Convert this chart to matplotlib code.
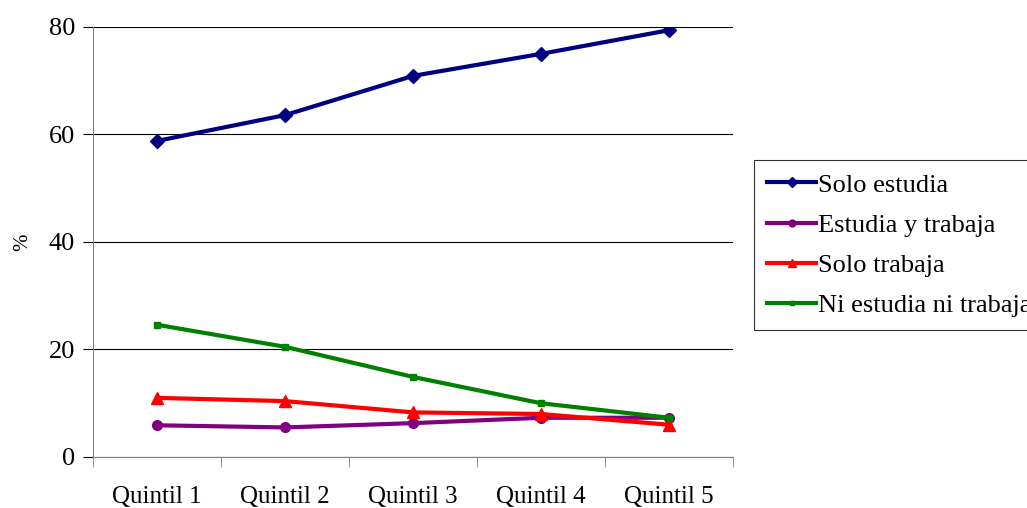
import matplotlib.pyplot as plt

plt.rcParams['font.family'] = ['Liberation Serif', 'DejaVu Serif']

# Datos
quintiles = ['Quintil 1', 'Quintil 2', 'Quintil 3', 'Quintil 4', 'Quintil 5']
solo_estudia = [58.8, 63.6, 70.9, 75.0, 79.4]
estudia_trabaja = [5.9, 5.5, 6.3, 7.3, 7.3]
solo_trabaja = [11.0, 10.4, 8.3, 8.0, 6.0]
ni_ni = [24.6, 20.5, 14.9, 10.0, 7.3]

fig = plt.figure(figsize=(10.27, 5.08), dpi=100)
ax = fig.add_axes([0.0906, 0.1004, 0.6231, 0.8465])

x = range(len(quintiles))
ax.plot(x, solo_estudia, color='#000080', lw=3, marker='D', ms=7, label='Solo estudia')
ax.plot(x, estudia_trabaja, color='#800080', lw=3, marker='o', ms=7, label='Estudia y trabaja')
ax.plot(x, solo_trabaja, color='#ff0000', lw=3, marker='^', ms=8, label='Solo trabaja')
ax.plot(x, ni_ni, color='#008000', lw=3, marker='s', ms=5, label='Ni estudia ni trabaja')

ax.set_xlim(-0.5, 4.5)
ax.set_ylim(0, 80)
ax.set_yticks([0, 20, 40, 60, 80])
ax.yaxis.grid(True, color='black', lw=0.8)
ax.set_axisbelow(True)

ax.set_xticks(x)
ax.set_xticklabels(quintiles)
ax.set_xticks([i - 0.5 for i in range(6)], minor=True)
ax.tick_params(axis='x', which='major', length=0, pad=21, labelsize=18)
ax.tick_params(axis='x', which='minor', length=7, direction='out', color='#808080')
ax.tick_params(axis='y', length=7, direction='out', labelsize=19, pad=6, color='black')

for s in ['top', 'right']:
    ax.spines[s].set_visible(False)
ax.spines['left'].set_color('#808080')
ax.spines['bottom'].set_color('#808080')
ax.set_ylabel('%', fontsize=15, labelpad=12)

leg = fig.legend(loc='upper left', bbox_to_anchor=(754 / 1027, 1 - 160 / 508),
                 fontsize=19, frameon=True, fancybox=False, edgecolor='black',
                 handlelength=1.85, borderpad=0.5, labelspacing=0.63, handletextpad=0.08,
                 borderaxespad=0, markerscale=0.7)
leg.get_frame().set_linewidth(0.8)

fig.savefig('out.png', dpi=100)
